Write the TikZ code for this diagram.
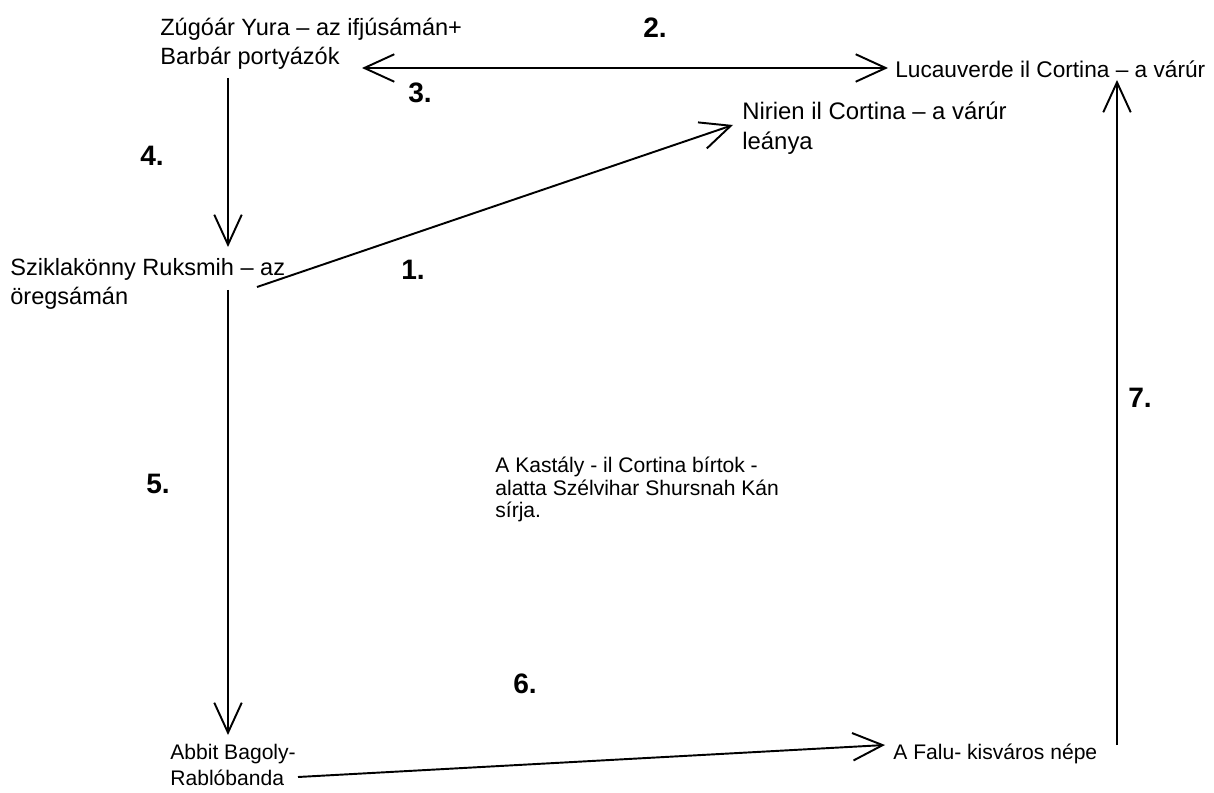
\documentclass[tikz,border=0pt]{standalone}
\usepackage{fontspec}
\setmainfont{Liberation Sans}
\usetikzlibrary{arrows.meta}

\begin{document}
\begin{tikzpicture}[x=0.02cm, y=-0.02cm,
      >={Straight Barb[length=0.6cm, width=0.55cm]},
      who/.style={anchor=north west, inner sep=0pt, align=left,
                  font=\fontsize{13.4}{16.4}\selectfont},
      small/.style={font=\fontsize{12}{14.7}\selectfont},
      num/.style={inner sep=0pt, font=\fontsize{16}{18}\selectfont\bfseries},
      arr/.style={->, line width=1.1pt}]
    \useasboundingbox (0,0) rectangle (1214,793);
    % people and places
    \node[who] (yura) at (160,18) {Zúgóár Yura -- az ifjúsámán+\\Barbár portyázók};
    \node[who, font=\fontsize{12.9}{16}\selectfont] (luca) at (895,60)
         {Lucauverde il Cortina -- a várúr};
    \node[who, font=\fontsize{13.6}{16.6}\selectfont] (nirien) at (742,102)
         {Nirien il Cortina -- a várúr\\leánya};
    \node[who] (szikla) at (10,258) {Sziklakönny Ruksmih -- az\\öregsámán};
    \node[who, font=\fontsize{12}{12.8}\selectfont] (kastely) at (495,457)
         {A Kastály - il Cortina bírtok -\\alatta Szélvihar Shursnah Kán\\sírja.};
    \node[who, small] (abbit) at (170,744) {Abbit Bagoly-\\Rablóbanda};
    \node[who, small] (falu) at (893,744) {A Falu- kisváros népe};
    % arrow ends
    \coordinate (yura-e) at (362,68);
    \coordinate (yura-s) at (228,78);
    \coordinate (szikla-n) at (228,247);
    \coordinate (szikla-s) at (228,290);
    \coordinate (szikla-e) at (257,287);
    \coordinate (nirien-w) at (733,125);
    \coordinate (abbit-n) at (228,735);
    \coordinate (abbit-e) at (298,777);
    \coordinate (falu-w) at (885,745);
    \coordinate (falu-ne) at (1117,745);
    \coordinate (luca-w) at (888,68);
    \coordinate (luca-s) at (1117,80);
    \draw[arr] (szikla-e) -- (nirien-w);
    \draw[arr, <->] (yura-e) -- (luca-w);
    \draw[arr] (yura-s) -- (szikla-n);
    \draw[arr] (szikla-s) -- (abbit-n);
    \draw[arr] (abbit-e) -- (falu-w);
    \draw[arr] (falu-ne) -- (luca-s);
    % numbers
    \node[num] (n1) at (413,270) {1.};
    \node[num] (n2) at (655,28) {2.};
    \node[num] (n3) at (420,93) {3.};
    \node[num] (n4) at (152,156) {4.};
    \node[num] (n5) at (158,484) {5.};
    \node[num] (n6) at (525,684) {6.};
    \node[num] (n7) at (1140,398) {7.};
  \end{tikzpicture}
\end{document}
